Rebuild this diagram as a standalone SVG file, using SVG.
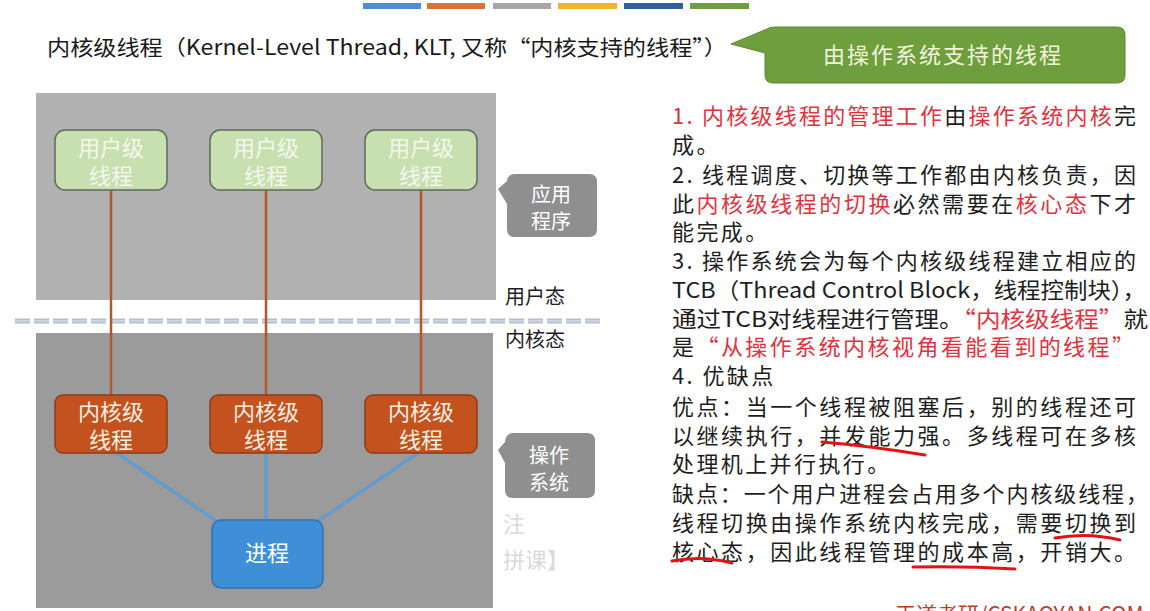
<svg xmlns="http://www.w3.org/2000/svg" width="1150" height="611" viewBox="0 0 1150 611">
<style>
text{font-family:"Noto Sans CJK SC","Liberation Sans",sans-serif;}
.ubox{fill:#c8dfb0;stroke:#5e6b5c;stroke-width:1.5;}
.utxt{fill:#f3f8ec;font-size:22px;text-anchor:middle;}
.kbox{fill:#c3521f;stroke:#8e3b18;stroke-width:1.5;}
.ktxt{fill:#fdf1e2;font-size:22px;text-anchor:middle;}
.call{fill:#8f8f8f;}
.ctxt{fill:#ffffff;font-size:20px;text-anchor:middle;}
.vline{stroke:#b5552a;stroke-width:2.5;fill:none;}
.bline{stroke:#5b9bd5;stroke-width:3.5;fill:none;stroke-opacity:0.85;}
.rt{font-size:22px;fill:#1e1e1e;}
.rs{letter-spacing:2.4px;}
.r{fill:#e3323e;}
.ul{stroke:#e01414;stroke-width:3;fill:none;stroke-linecap:round;}
.state{font-size:20px;fill:#1e1e1e;}
.wm{font-size:22px;fill:#dadada;}
</style>
<rect width="1150" height="611" fill="#ffffff"/>
<g id="topbars">
<rect x="363" y="3" width="58" height="6" fill="#4a8fd0"/>
<rect x="427" y="3" width="58" height="6" fill="#d9713a"/>
<rect x="493" y="3" width="58" height="6" fill="#a6a6a6"/>
<rect x="558" y="3" width="59" height="6" fill="#f2b32e"/>
<rect x="624" y="3" width="59" height="6" fill="#2f5f9e"/>
<rect x="690" y="3" width="59" height="6" fill="#6f9e3f"/>
</g>
<g id="title">
<text x="47" y="55" font-size="21" fill="#1a1a1a" textLength="680" lengthAdjust="spacingAndGlyphs">内核级线程（Kernel-Level Thread, KLT, 又称“内核支持的线程”）</text>
</g>
<g id="green-callout">
<path d="M775,27 H1117 Q1125,27 1125,35 V75 Q1125,83 1117,83 H773 Q765,83 765,75 V53 L731,44 L767,29 Q769,27 775,27 Z" fill="#6f9e3f" stroke="#5d8a33" stroke-width="1"/>
<text x="943" y="63" font-size="22" fill="#f2f6dc" text-anchor="middle" letter-spacing="2">由操作系统支持的线程</text>
</g>
<g id="user-space">
<rect x="36" y="93" width="460" height="207" fill="#b1b1b1"/>
</g>
<g id="kernel-space">
<rect x="36" y="333" width="457" height="275" fill="#9b9b9b"/>
</g>
<g id="divider">
<line x1="15" y1="321" x2="602" y2="321" stroke="#b3bfce" stroke-width="5" stroke-dasharray="15 4"/>
<line x1="15" y1="321" x2="602" y2="321" stroke="#e2e7ee" stroke-width="1.2" stroke-dasharray="15 4"/>
</g>
<g id="connectors">
<line class="vline" x1="111" y1="190" x2="111" y2="395"/>
<line class="vline" x1="266" y1="190" x2="266" y2="395"/>
<line class="vline" x1="421" y1="190" x2="421" y2="395"/>
<line class="bline" x1="117" y1="453" x2="216" y2="521"/>
<line class="bline" x1="266" y1="453" x2="266" y2="520"/>
<line class="bline" x1="418" y1="453" x2="318" y2="521"/>
</g>
<g id="ult1"><rect class="ubox" x="55" y="130" width="112" height="60" rx="10"/><text class="utxt" x="111" y="156">用户级</text><text class="utxt" x="111" y="184">线程</text></g>
<g id="ult2"><rect class="ubox" x="210" y="130" width="112" height="60" rx="10"/><text class="utxt" x="266" y="156">用户级</text><text class="utxt" x="266" y="184">线程</text></g>
<g id="ult3"><rect class="ubox" x="365" y="130" width="112" height="60" rx="10"/><text class="utxt" x="421" y="156">用户级</text><text class="utxt" x="421" y="184">线程</text></g>
<g id="klt1"><rect class="kbox" x="55" y="395" width="112" height="58" rx="8"/><text class="ktxt" x="111" y="420">内核级</text><text class="ktxt" x="111" y="448">线程</text></g>
<g id="klt2"><rect class="kbox" x="210" y="395" width="112" height="58" rx="8"/><text class="ktxt" x="266" y="420">内核级</text><text class="ktxt" x="266" y="448">线程</text></g>
<g id="klt3"><rect class="kbox" x="365" y="395" width="112" height="58" rx="8"/><text class="ktxt" x="421" y="420">内核级</text><text class="ktxt" x="421" y="448">线程</text></g>
<g id="process"><rect x="212" y="520" width="111" height="68" rx="9" fill="#3f8fd8" stroke="#2f73b4" stroke-width="1.5"/><text x="267" y="561" font-size="22" fill="#ffffff" text-anchor="middle">进程</text></g>
<g id="app-callout">
<path d="M515,174 H589 Q597,174 597,182 V229 Q597,237 589,237 H515 Q507,237 507,229 V204 L498,189 L507,181 Q508,174 515,174 Z" class="call"/>
<text class="ctxt" x="551" y="202">应用</text><text class="ctxt" x="551" y="229">程序</text>
</g>
<g id="os-callout">
<path d="M513,433 H587 Q595,433 595,441 V490 Q595,498 587,498 H513 Q505,498 505,490 V463 L498,450 L505,442 Q506,433 513,433 Z" class="call"/>
<text class="ctxt" x="549" y="463">操作</text><text class="ctxt" x="549" y="490">系统</text>
</g>
<g id="labels">
<text class="state" x="505" y="304">用户态</text>
<text class="state" x="505" y="347">内核态</text>
<text class="wm" x="503" y="532">注</text>
<text class="wm" x="503" y="568">拼课】</text>
</g>
<g id="notes">
<text class="rt" x="672" y="124" textLength="464" lengthAdjust="spacing"><tspan class="r">1. 内核级线程的管理工作</tspan>由<tspan class="r">操作系统内核</tspan>完</text>
<text class="rt rs" x="672" y="153">成。</text>
<text class="rt" x="672" y="183" textLength="464" lengthAdjust="spacing">2. 线程调度、切换等工作都由内核负责，因</text>
<text class="rt" x="672" y="212" textLength="464" lengthAdjust="spacing">此<tspan class="r">内核级线程的切换</tspan>必然需要在<tspan class="r">核心态</tspan>下才</text>
<text class="rt rs" x="672" y="240">能完成。</text>
<text class="rt" x="672" y="269" textLength="464" lengthAdjust="spacing">3. 操作系统会为每个内核级线程建立相应的</text>
<text class="rt" x="672" y="298" textLength="474" lengthAdjust="spacingAndGlyphs">TCB（Thread Control Block，线程控制块），</text>
<text class="rt" x="672" y="327" textLength="476" lengthAdjust="spacingAndGlyphs">通过TCB对线程进行管理。<tspan class="r">“内核级线程”</tspan>就</text>
<text class="rt" x="672" y="355" textLength="462" lengthAdjust="spacing">是<tspan class="r">“从操作系统内核视角看能看到的线程”</tspan></text>
<text class="rt rs" x="672" y="384">4. 优缺点</text>
<text class="rt" x="672" y="415" textLength="464" lengthAdjust="spacing">优点：当一个线程被阻塞后，别的线程还可</text>
<text class="rt" x="672" y="444" textLength="464" lengthAdjust="spacing">以继续执行，并发能力强。多线程可在多核</text>
<text class="rt rs" x="672" y="472">处理机上并行执行。</text>
<text class="rt" x="672" y="502" textLength="476" lengthAdjust="spacing">缺点：一个用户进程会占用多个内核级线程，</text>
<text class="rt" x="672" y="531" textLength="464" lengthAdjust="spacing">线程切换由操作系统内核完成，需要切换到</text>
<text class="rt" x="672" y="560" textLength="464" lengthAdjust="spacing">核心态，因此线程管理的成本高，开销大。</text>
</g>
<g id="underlines">
<path class="ul" d="M822,442 Q870,446 925,455"/>
<path class="ul" d="M1055,538 Q1088,532 1120,540"/>
<path class="ul" d="M672,561 Q702,555 732,563"/>
<path class="ul" d="M913,567 Q965,566 1015,569"/>
</g>
<g id="footer">
<text x="895" y="622" font-size="21" fill="#c0392b">王道考研/CSKAOYAN.COM</text>
</g>
</svg>
